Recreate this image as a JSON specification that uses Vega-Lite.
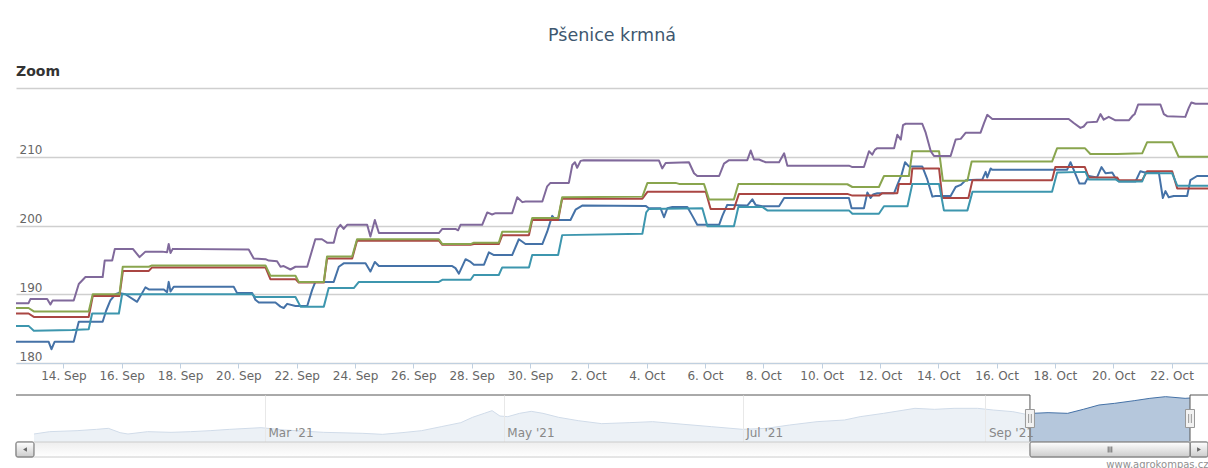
{
"$schema":"https://vega.github.io/schema/vega-lite/v6.json",
"background":"#ffffff",
"padding":{"left":15,"top":26,"right":0,"bottom":0},
"title":{"text":"Pšenice krmná","fontSize":17.5,"font":"DejaVu Sans","fontWeight":"normal","color":"#3E576F","anchor":"middle","offset":21},
"bounds":"flush",
"spacing":32,
"resolve":{"scale":{"x":"independent","y":"independent"}},
"config":{"view":{"stroke":null},"font":"DejaVu Sans"},
"datasets":{
"series":[
{"s":"1","t":"2021-09-12T09:00","v":183.1},{"s":"1","t":"2021-09-13T11:50","v":183.1},{"s":"1","t":"2021-09-13T14:10","v":182.0},{"s":"1","t":"2021-09-13T16:50","v":183.1},{"s":"1","t":"2021-09-14T08:30","v":183.1},{"s":"1","t":"2021-09-14T12:40","v":186.0},{"s":"1","t":"2021-09-15T08:20","v":186.0},{"s":"1","t":"2021-09-15T11:10","v":187.6},{"s":"1","t":"2021-09-15T14:40","v":189.1},{"s":"1","t":"2021-09-15T18:50","v":190.0},{"s":"1","t":"2021-09-15T21:40","v":190.2},{"s":"1","t":"2021-09-16T03:00","v":190.0},{"s":"1","t":"2021-09-16T12:40","v":188.9},{"s":"1","t":"2021-09-16T19:30","v":191.0},{"s":"1","t":"2021-09-16T22:20","v":190.7},{"s":"1","t":"2021-09-17T10:40","v":190.7},{"s":"1","t":"2021-09-17T13:20","v":190.3},{"s":"1","t":"2021-09-17T14:40","v":191.8},{"s":"1","t":"2021-09-17T16:10","v":190.4},{"s":"1","t":"2021-09-17T18:50","v":191.1},{"s":"1","t":"2021-09-19T20:10","v":191.1},{"s":"1","t":"2021-09-19T22:50","v":190.2},{"s":"1","t":"2021-09-20T11:20","v":190.2},{"s":"1","t":"2021-09-20T14:00","v":189.2},{"s":"1","t":"2021-09-20T16:50","v":188.8},{"s":"1","t":"2021-09-21T06:30","v":188.8},{"s":"1","t":"2021-09-21T10:40","v":188.2},{"s":"1","t":"2021-09-21T13:20","v":188.0},{"s":"1","t":"2021-09-21T16:10","v":188.6},{"s":"1","t":"2021-09-21T23:00","v":188.3},{"s":"1","t":"2021-09-22T08:40","v":188.3},{"s":"1","t":"2021-09-22T12:40","v":190.6},{"s":"1","t":"2021-09-22T15:20","v":191.8},{"s":"1","t":"2021-09-23T06:30","v":191.8},{"s":"1","t":"2021-09-23T10:40","v":194.0},{"s":"1","t":"2021-09-23T14:40","v":194.5},{"s":"1","t":"2021-09-24T08:40","v":194.5},{"s":"1","t":"2021-09-24T12:40","v":193.3},{"s":"1","t":"2021-09-24T16:20","v":194.7},{"s":"1","t":"2021-09-24T19:40","v":194.1},{"s":"1","t":"2021-09-27T08:00","v":194.1},{"s":"1","t":"2021-09-27T10:40","v":193.8},{"s":"1","t":"2021-09-27T13:30","v":193.0},{"s":"1","t":"2021-09-27T19:00","v":195.1},{"s":"1","t":"2021-09-27T23:10","v":194.7},{"s":"1","t":"2021-09-28T01:50","v":194.3},{"s":"1","t":"2021-09-28T10:10","v":194.3},{"s":"1","t":"2021-09-28T14:10","v":196.1},{"s":"1","t":"2021-09-28T18:20","v":195.7},{"s":"1","t":"2021-09-29T09:20","v":195.7},{"s":"1","t":"2021-09-29T14:50","v":198.0},{"s":"1","t":"2021-09-29T20:20","v":197.3},{"s":"1","t":"2021-09-30T10:10","v":197.3},{"s":"1","t":"2021-09-30T14:10","v":199.1},{"s":"1","t":"2021-09-30T16:50","v":200.6},{"s":"1","t":"2021-09-30T18:20","v":201.4},{"s":"1","t":"2021-09-30T21:00","v":200.8},{"s":"1","t":"2021-10-01T09:20","v":200.8},{"s":"1","t":"2021-10-01T13:30","v":202.3},{"s":"1","t":"2021-10-01T19:00","v":202.9},{"s":"1","t":"2021-10-03T23:10","v":202.85},{"s":"1","t":"2021-10-04T01:50","v":202.5},{"s":"1","t":"2021-10-04T11:30","v":202.5},{"s":"1","t":"2021-10-04T14:20","v":201.2},{"s":"1","t":"2021-10-04T17:00","v":202.5},{"s":"1","t":"2021-10-04T21:10","v":202.7},{"s":"1","t":"2021-10-05T09:30","v":202.7},{"s":"1","t":"2021-10-05T13:40","v":201.4},{"s":"1","t":"2021-10-05T17:40","v":200.1},{"s":"1","t":"2021-10-06T11:40","v":200.1},{"s":"1","t":"2021-10-06T14:20","v":201.4},{"s":"1","t":"2021-10-06T18:20","v":203.0},{"s":"1","t":"2021-10-07T10:50","v":202.9},{"s":"1","t":"2021-10-07T15:00","v":203.8},{"s":"1","t":"2021-10-07T17:40","v":203.0},{"s":"1","t":"2021-10-07T23:10","v":202.8},{"s":"1","t":"2021-10-08T13:00","v":202.8},{"s":"1","t":"2021-10-08T17:10","v":204.0},{"s":"1","t":"2021-10-10T22:30","v":204.0},{"s":"1","t":"2021-10-11T00:40","v":202.5},{"s":"1","t":"2021-10-11T10:50","v":202.5},{"s":"1","t":"2021-10-11T13:40","v":204.8},{"s":"1","t":"2021-10-11T16:20","v":204.0},{"s":"1","t":"2021-10-11T18:20","v":204.5},{"s":"1","t":"2021-10-11T21:50","v":204.7},{"s":"1","t":"2021-10-12T11:40","v":204.7},{"s":"1","t":"2021-10-12T14:20","v":205.9},{"s":"1","t":"2021-10-12T17:50","v":207.4},{"s":"1","t":"2021-10-12T20:40","v":209.2},{"s":"1","t":"2021-10-12T23:50","v":208.6},{"s":"1","t":"2021-10-13T10:50","v":208.6},{"s":"1","t":"2021-10-13T15:00","v":206.7},{"s":"1","t":"2021-10-13T19:10","v":204.2},{"s":"1","t":"2021-10-13T21:50","v":204.3},{"s":"1","t":"2021-10-14T10:10","v":204.3},{"s":"1","t":"2021-10-14T14:20","v":205.6},{"s":"1","t":"2021-10-14T18:30","v":205.9},{"s":"1","t":"2021-10-14T22:40","v":206.6},{"s":"1","t":"2021-10-15T12:20","v":206.7},{"s":"1","t":"2021-10-15T15:00","v":207.8},{"s":"1","t":"2021-10-15T16:20","v":207.0},{"s":"1","t":"2021-10-15T19:10","v":208.3},{"s":"1","t":"2021-10-15T20:30","v":208.1},{"s":"1","t":"2021-10-18T10:00","v":208.1},{"s":"1","t":"2021-10-18T12:50","v":209.2},{"s":"1","t":"2021-10-18T15:30","v":208.1},{"s":"1","t":"2021-10-18T20:10","v":206.1},{"s":"1","t":"2021-10-19T00:40","v":206.1},{"s":"1","t":"2021-10-19T03:50","v":207.2},{"s":"1","t":"2021-10-19T10:40","v":207.0},{"s":"1","t":"2021-10-19T14:20","v":208.5},{"s":"1","t":"2021-10-19T17:40","v":207.6},{"s":"1","t":"2021-10-19T23:10","v":207.7},{"s":"1","t":"2021-10-20T01:50","v":206.9},{"s":"1","t":"2021-10-20T04:40","v":206.4},{"s":"1","t":"2021-10-20T18:20","v":206.4},{"s":"1","t":"2021-10-20T22:20","v":207.9},{"s":"1","t":"2021-10-21T01:10","v":207.75},{"s":"1","t":"2021-10-21T13:30","v":207.75},{"s":"1","t":"2021-10-21T16:50","v":204.0},{"s":"1","t":"2021-10-21T19:00","v":205.0},{"s":"1","t":"2021-10-21T21:40","v":204.1},{"s":"1","t":"2021-10-22T01:50","v":204.3},{"s":"1","t":"2021-10-22T12:50","v":204.3},{"s":"1","t":"2021-10-22T15:30","v":206.6},{"s":"1","t":"2021-10-22T21:00","v":207.2},{"s":"1","t":"2021-10-23T06:00","v":207.2},
{"s":"2","t":"2021-09-12T09:00","v":187.2},{"s":"2","t":"2021-09-12T19:20","v":187.2},{"s":"2","t":"2021-09-12T23:40","v":186.7},{"s":"2","t":"2021-09-14T20:50","v":186.7},{"s":"2","t":"2021-09-15T00:10","v":189.75},{"s":"2","t":"2021-09-15T22:10","v":189.75},{"s":"2","t":"2021-09-16T01:00","v":193.4},{"s":"2","t":"2021-09-16T22:20","v":193.4},{"s":"2","t":"2021-09-17T01:00","v":193.9},{"s":"2","t":"2021-09-20T22:20","v":193.9},{"s":"2","t":"2021-09-21T02:20","v":192.2},{"s":"2","t":"2021-09-21T23:00","v":192.2},{"s":"2","t":"2021-09-22T01:40","v":191.7},{"s":"2","t":"2021-09-22T22:20","v":191.7},{"s":"2","t":"2021-09-23T01:00","v":195.2},{"s":"2","t":"2021-09-23T21:40","v":195.2},{"s":"2","t":"2021-09-24T01:40","v":197.8},{"s":"2","t":"2021-09-26T21:00","v":197.8},{"s":"2","t":"2021-09-26T23:50","v":197.2},{"s":"2","t":"2021-09-27T23:10","v":197.2},{"s":"2","t":"2021-09-28T01:50","v":197.3},{"s":"2","t":"2021-09-28T22:20","v":197.3},{"s":"2","t":"2021-09-29T01:10","v":198.6},{"s":"2","t":"2021-09-29T23:10","v":198.6},{"s":"2","t":"2021-09-30T01:50","v":200.8},{"s":"2","t":"2021-09-30T23:10","v":200.8},{"s":"2","t":"2021-10-01T02:30","v":203.9},{"s":"2","t":"2021-10-03T20:30","v":203.9},{"s":"2","t":"2021-10-04T00:40","v":204.9},{"s":"2","t":"2021-10-06T00:40","v":204.9},{"s":"2","t":"2021-10-06T04:40","v":202.4},{"s":"2","t":"2021-10-06T23:50","v":202.4},{"s":"2","t":"2021-10-07T04:00","v":204.6},{"s":"2","t":"2021-10-10T21:10","v":204.6},{"s":"2","t":"2021-10-11T01:20","v":204.35},{"s":"2","t":"2021-10-11T23:10","v":204.35},{"s":"2","t":"2021-10-12T02:00","v":204.7},{"s":"2","t":"2021-10-12T14:20","v":204.7},{"s":"2","t":"2021-10-12T15:40","v":206.05},{"s":"2","t":"2021-10-13T01:20","v":206.05},{"s":"2","t":"2021-10-13T02:40","v":208.3},{"s":"2","t":"2021-10-14T00:40","v":208.3},{"s":"2","t":"2021-10-14T03:20","v":204.0},{"s":"2","t":"2021-10-15T00:50","v":204.0},{"s":"2","t":"2021-10-15T04:10","v":206.6},{"s":"2","t":"2021-10-17T21:40","v":206.6},{"s":"2","t":"2021-10-18T00:20","v":208.5},{"s":"2","t":"2021-10-19T00:40","v":208.5},{"s":"2","t":"2021-10-19T03:50","v":207.0},{"s":"2","t":"2021-10-20T03:10","v":207.0},{"s":"2","t":"2021-10-20T04:40","v":206.6},{"s":"2","t":"2021-10-20T23:50","v":206.6},{"s":"2","t":"2021-10-21T03:50","v":207.9},{"s":"2","t":"2021-10-22T00:30","v":207.9},{"s":"2","t":"2021-10-22T04:40","v":205.4},{"s":"2","t":"2021-10-23T06:00","v":205.4},
{"s":"3","t":"2021-09-12T09:00","v":188.0},{"s":"3","t":"2021-09-12T19:20","v":188.0},{"s":"3","t":"2021-09-12T23:40","v":187.5},{"s":"3","t":"2021-09-14T20:50","v":187.5},{"s":"3","t":"2021-09-15T00:10","v":190.0},{"s":"3","t":"2021-09-15T22:10","v":190.0},{"s":"3","t":"2021-09-16T00:50","v":194.0},{"s":"3","t":"2021-09-16T22:20","v":194.0},{"s":"3","t":"2021-09-17T01:00","v":194.2},{"s":"3","t":"2021-09-20T22:20","v":194.2},{"s":"3","t":"2021-09-21T02:20","v":192.7},{"s":"3","t":"2021-09-21T23:00","v":192.7},{"s":"3","t":"2021-09-22T01:40","v":191.8},{"s":"3","t":"2021-09-22T22:20","v":191.8},{"s":"3","t":"2021-09-23T01:00","v":195.5},{"s":"3","t":"2021-09-23T21:40","v":195.5},{"s":"3","t":"2021-09-24T01:40","v":198.0},{"s":"3","t":"2021-09-26T21:00","v":198.0},{"s":"3","t":"2021-09-26T23:50","v":197.3},{"s":"3","t":"2021-09-27T23:10","v":197.3},{"s":"3","t":"2021-09-28T01:50","v":197.5},{"s":"3","t":"2021-09-28T22:20","v":197.5},{"s":"3","t":"2021-09-29T01:10","v":199.1},{"s":"3","t":"2021-09-29T23:10","v":199.1},{"s":"3","t":"2021-09-30T01:50","v":201.1},{"s":"3","t":"2021-09-30T23:10","v":201.1},{"s":"3","t":"2021-10-01T02:30","v":204.1},{"s":"3","t":"2021-10-03T20:30","v":204.2},{"s":"3","t":"2021-10-04T00:40","v":206.2},{"s":"3","t":"2021-10-04T23:50","v":206.2},{"s":"3","t":"2021-10-05T02:40","v":206.05},{"s":"3","t":"2021-10-05T23:10","v":206.05},{"s":"3","t":"2021-10-06T03:20","v":203.8},{"s":"3","t":"2021-10-06T23:50","v":203.8},{"s":"3","t":"2021-10-07T03:30","v":206.05},{"s":"3","t":"2021-10-10T21:10","v":206.0},{"s":"3","t":"2021-10-11T01:20","v":205.6},{"s":"3","t":"2021-10-11T23:10","v":205.6},{"s":"3","t":"2021-10-12T03:20","v":207.2},{"s":"3","t":"2021-10-12T23:50","v":207.2},{"s":"3","t":"2021-10-13T02:40","v":210.8},{"s":"3","t":"2021-10-14T00:40","v":210.8},{"s":"3","t":"2021-10-14T03:50","v":206.5},{"s":"3","t":"2021-10-15T00:00","v":206.5},{"s":"3","t":"2021-10-15T03:30","v":209.3},{"s":"3","t":"2021-10-17T21:40","v":209.3},{"s":"3","t":"2021-10-18T01:50","v":211.25},{"s":"3","t":"2021-10-19T00:40","v":211.25},{"s":"3","t":"2021-10-19T05:10","v":210.4},{"s":"3","t":"2021-10-20T03:10","v":210.4},{"s":"3","t":"2021-10-20T23:50","v":210.5},{"s":"3","t":"2021-10-21T03:50","v":212.1},{"s":"3","t":"2021-10-22T00:30","v":212.1},{"s":"3","t":"2021-10-22T05:50","v":210.0},{"s":"3","t":"2021-10-23T06:00","v":210.0},
{"s":"4","t":"2021-09-12T09:00","v":188.7},{"s":"4","t":"2021-09-12T19:20","v":188.7},{"s":"4","t":"2021-09-12T20:50","v":189.3},{"s":"4","t":"2021-09-13T10:40","v":189.3},{"s":"4","t":"2021-09-13T13:20","v":188.5},{"s":"4","t":"2021-09-13T15:10","v":189.1},{"s":"4","t":"2021-09-14T08:30","v":189.1},{"s":"4","t":"2021-09-14T12:40","v":191.5},{"s":"4","t":"2021-09-14T18:10","v":192.5},{"s":"4","t":"2021-09-15T08:20","v":192.5},{"s":"4","t":"2021-09-15T10:00","v":194.9},{"s":"4","t":"2021-09-15T16:10","v":194.9},{"s":"4","t":"2021-09-15T18:20","v":196.6},{"s":"4","t":"2021-09-16T09:10","v":196.6},{"s":"4","t":"2021-09-16T14:40","v":195.4},{"s":"4","t":"2021-09-16T19:30","v":196.2},{"s":"4","t":"2021-09-17T09:10","v":196.2},{"s":"4","t":"2021-09-17T13:20","v":196.1},{"s":"4","t":"2021-09-17T14:40","v":197.3},{"s":"4","t":"2021-09-17T16:10","v":196.0},{"s":"4","t":"2021-09-17T18:00","v":196.6},{"s":"4","t":"2021-09-20T08:30","v":196.5},{"s":"4","t":"2021-09-20T12:40","v":195.2},{"s":"4","t":"2021-09-20T22:20","v":195.1},{"s":"4","t":"2021-09-21T01:00","v":194.9},{"s":"4","t":"2021-09-21T07:50","v":194.8},{"s":"4","t":"2021-09-21T10:40","v":194.0},{"s":"4","t":"2021-09-21T13:20","v":194.1},{"s":"4","t":"2021-09-21T18:50","v":193.6},{"s":"4","t":"2021-09-21T23:00","v":194.0},{"s":"4","t":"2021-09-22T08:40","v":194.0},{"s":"4","t":"2021-09-22T12:40","v":196.4},{"s":"4","t":"2021-09-22T15:20","v":198.0},{"s":"4","t":"2021-09-22T20:50","v":198.0},{"s":"4","t":"2021-09-23T01:00","v":197.5},{"s":"4","t":"2021-09-23T06:30","v":197.5},{"s":"4","t":"2021-09-23T09:20","v":199.5},{"s":"4","t":"2021-09-23T12:00","v":200.1},{"s":"4","t":"2021-09-23T14:40","v":199.5},{"s":"4","t":"2021-09-23T17:30","v":200.1},{"s":"4","t":"2021-09-24T10:00","v":200.1},{"s":"4","t":"2021-09-24T12:40","v":198.4},{"s":"4","t":"2021-09-24T16:20","v":200.8},{"s":"4","t":"2021-09-24T19:40","v":198.9},{"s":"4","t":"2021-09-26T21:00","v":198.9},{"s":"4","t":"2021-09-26T23:50","v":199.5},{"s":"4","t":"2021-09-27T10:40","v":199.5},{"s":"4","t":"2021-09-27T12:50","v":199.3},{"s":"4","t":"2021-09-27T14:50","v":200.1},{"s":"4","t":"2021-09-28T08:40","v":200.1},{"s":"4","t":"2021-09-28T12:50","v":201.9},{"s":"4","t":"2021-09-28T16:50","v":201.6},{"s":"4","t":"2021-09-28T19:40","v":201.8},{"s":"4","t":"2021-09-29T09:20","v":201.8},{"s":"4","t":"2021-09-29T13:30","v":204.1},{"s":"4","t":"2021-09-29T17:40","v":203.4},{"s":"4","t":"2021-09-29T20:20","v":203.5},{"s":"4","t":"2021-09-30T10:10","v":203.5},{"s":"4","t":"2021-09-30T14:10","v":205.7},{"s":"4","t":"2021-09-30T16:50","v":206.2},{"s":"4","t":"2021-10-01T08:00","v":206.2},{"s":"4","t":"2021-10-01T10:50","v":208.8},{"s":"4","t":"2021-10-01T13:00","v":209.2},{"s":"4","t":"2021-10-01T14:50","v":208.4},{"s":"4","t":"2021-10-01T17:40","v":209.4},{"s":"4","t":"2021-10-01T20:20","v":209.5},{"s":"4","t":"2021-10-04T10:10","v":209.45},{"s":"4","t":"2021-10-04T12:50","v":208.3},{"s":"4","t":"2021-10-04T15:40","v":209.1},{"s":"4","t":"2021-10-05T10:50","v":209.2},{"s":"4","t":"2021-10-05T15:00","v":207.6},{"s":"4","t":"2021-10-05T17:40","v":207.2},{"s":"4","t":"2021-10-06T11:40","v":207.2},{"s":"4","t":"2021-10-06T15:40","v":209.0},{"s":"4","t":"2021-10-06T19:50","v":209.5},{"s":"4","t":"2021-10-07T10:50","v":209.5},{"s":"4","t":"2021-10-07T13:40","v":210.9},{"s":"4","t":"2021-10-07T16:20","v":209.6},{"s":"4","t":"2021-10-07T20:30","v":209.6},{"s":"4","t":"2021-10-08T02:00","v":209.2},{"s":"4","t":"2021-10-08T13:00","v":209.2},{"s":"4","t":"2021-10-08T17:10","v":210.5},{"s":"4","t":"2021-10-08T19:50","v":208.7},{"s":"4","t":"2021-10-10T22:30","v":208.7},{"s":"4","t":"2021-10-11T01:20","v":208.5},{"s":"4","t":"2021-10-11T10:50","v":208.5},{"s":"4","t":"2021-10-11T15:00","v":210.8},{"s":"4","t":"2021-10-11T17:40","v":210.3},{"s":"4","t":"2021-10-11T19:50","v":211.0},{"s":"4","t":"2021-10-11T21:50","v":211.25},{"s":"4","t":"2021-10-12T11:40","v":211.25},{"s":"4","t":"2021-10-12T14:20","v":213.2},{"s":"4","t":"2021-10-12T17:10","v":212.5},{"s":"4","t":"2021-10-12T19:00","v":214.6},{"s":"4","t":"2021-10-12T21:10","v":214.8},{"s":"4","t":"2021-10-13T10:50","v":214.8},{"s":"4","t":"2021-10-13T13:40","v":213.5},{"s":"4","t":"2021-10-13T17:50","v":210.8},{"s":"4","t":"2021-10-13T20:30","v":210.1},{"s":"4","t":"2021-10-14T10:10","v":210.1},{"s":"4","t":"2021-10-14T14:20","v":212.5},{"s":"4","t":"2021-10-14T18:30","v":212.6},{"s":"4","t":"2021-10-14T22:40","v":213.5},{"s":"4","t":"2021-10-15T10:50","v":213.5},{"s":"4","t":"2021-10-15T13:40","v":214.9},{"s":"4","t":"2021-10-15T16:20","v":216.1},{"s":"4","t":"2021-10-15T20:30","v":215.5},{"s":"4","t":"2021-10-18T11:20","v":215.5},{"s":"4","t":"2021-10-18T15:30","v":214.9},{"s":"4","t":"2021-10-18T21:00","v":214.2},{"s":"4","t":"2021-10-18T23:40","v":214.4},{"s":"4","t":"2021-10-19T02:30","v":215.0},{"s":"4","t":"2021-10-19T10:40","v":215.1},{"s":"4","t":"2021-10-19T13:30","v":216.2},{"s":"4","t":"2021-10-19T16:10","v":215.4},{"s":"4","t":"2021-10-19T20:20","v":215.8},{"s":"4","t":"2021-10-20T01:50","v":215.3},{"s":"4","t":"2021-10-20T12:50","v":215.3},{"s":"4","t":"2021-10-20T16:10","v":216.0},{"s":"4","t":"2021-10-20T17:40","v":216.2},{"s":"4","t":"2021-10-20T20:30","v":217.6},{"s":"4","t":"2021-10-21T14:50","v":217.6},{"s":"4","t":"2021-10-21T17:40","v":216.2},{"s":"4","t":"2021-10-21T20:20","v":215.9},{"s":"4","t":"2021-10-22T11:20","v":215.8},{"s":"4","t":"2021-10-22T14:10","v":217.1},{"s":"4","t":"2021-10-22T16:20","v":217.9},{"s":"4","t":"2021-10-22T19:40","v":217.7},{"s":"4","t":"2021-10-23T06:00","v":217.7},
{"s":"5","t":"2021-09-12T09:00","v":185.4},{"s":"5","t":"2021-09-12T19:20","v":185.4},{"s":"5","t":"2021-09-12T23:40","v":184.7},{"s":"5","t":"2021-09-14T07:10","v":184.8},{"s":"5","t":"2021-09-14T20:50","v":184.9},{"s":"5","t":"2021-09-14T23:40","v":187.2},{"s":"5","t":"2021-09-15T21:40","v":187.2},{"s":"5","t":"2021-09-16T00:20","v":190.0},{"s":"5","t":"2021-09-20T11:20","v":190.0},{"s":"5","t":"2021-09-20T14:00","v":189.6},{"s":"5","t":"2021-09-21T23:00","v":189.6},{"s":"5","t":"2021-09-22T03:10","v":188.2},{"s":"5","t":"2021-09-22T22:20","v":188.2},{"s":"5","t":"2021-09-23T02:20","v":190.9},{"s":"5","t":"2021-09-23T23:00","v":190.9},{"s":"5","t":"2021-09-24T03:10","v":191.8},{"s":"5","t":"2021-09-26T21:00","v":191.8},{"s":"5","t":"2021-09-26T23:50","v":192.1},{"s":"5","t":"2021-09-27T23:10","v":192.1},{"s":"5","t":"2021-09-28T01:50","v":192.8},{"s":"5","t":"2021-09-28T22:20","v":192.8},{"s":"5","t":"2021-09-29T01:10","v":193.9},{"s":"5","t":"2021-09-29T23:10","v":193.9},{"s":"5","t":"2021-09-30T01:50","v":195.7},{"s":"5","t":"2021-09-30T23:10","v":195.7},{"s":"5","t":"2021-10-01T02:30","v":198.6},{"s":"5","t":"2021-10-03T20:30","v":198.8},{"s":"5","t":"2021-10-03T23:40","v":201.9},{"s":"5","t":"2021-10-04T01:50","v":202.4},{"s":"5","t":"2021-10-05T21:50","v":202.5},{"s":"5","t":"2021-10-06T02:00","v":199.9},{"s":"5","t":"2021-10-06T23:50","v":199.9},{"s":"5","t":"2021-10-07T03:30","v":202.7},{"s":"5","t":"2021-10-07T23:10","v":202.7},{"s":"5","t":"2021-10-08T03:20","v":202.2},{"s":"5","t":"2021-10-10T22:30","v":202.2},{"s":"5","t":"2021-10-11T01:20","v":201.7},{"s":"5","t":"2021-10-11T23:10","v":201.7},{"s":"5","t":"2021-10-12T03:20","v":202.8},{"s":"5","t":"2021-10-12T22:40","v":202.8},{"s":"5","t":"2021-10-13T02:40","v":206.05},{"s":"5","t":"2021-10-14T00:40","v":206.05},{"s":"5","t":"2021-10-14T04:40","v":202.2},{"s":"5","t":"2021-10-15T00:00","v":202.2},{"s":"5","t":"2021-10-15T04:10","v":204.9},{"s":"5","t":"2021-10-17T21:40","v":204.9},{"s":"5","t":"2021-10-18T01:50","v":207.7},{"s":"5","t":"2021-10-19T01:10","v":207.8},{"s":"5","t":"2021-10-19T03:50","v":206.7},{"s":"5","t":"2021-10-20T01:50","v":206.7},{"s":"5","t":"2021-10-20T04:40","v":206.4},{"s":"5","t":"2021-10-20T23:50","v":206.4},{"s":"5","t":"2021-10-21T02:30","v":207.6},{"s":"5","t":"2021-10-22T00:30","v":207.6},{"s":"5","t":"2021-10-22T04:40","v":205.8},{"s":"5","t":"2021-10-23T06:00","v":205.8}
],
"nav":[
{"t":"2021-01-01T00:00","v":159.6},{"t":"2021-01-05T00:00","v":162.4},{"t":"2021-01-12T00:00","v":163.6},{"t":"2021-01-17T00:00","v":165.2},{"t":"2021-01-20T00:00","v":166.4},{"t":"2021-01-23T00:00","v":161.2},{"t":"2021-01-25T00:00","v":159.6},{"t":"2021-01-30T00:00","v":162.4},{"t":"2021-02-05T00:00","v":161.6},{"t":"2021-02-10T00:00","v":162.4},{"t":"2021-02-15T00:00","v":163.6},{"t":"2021-02-20T00:00","v":165.2},{"t":"2021-02-28T00:00","v":167.2},{"t":"2021-03-06T00:00","v":164.4},{"t":"2021-03-16T00:00","v":161.6},{"t":"2021-03-26T00:00","v":160.4},{"t":"2021-03-31T00:00","v":159.2},{"t":"2021-04-05T00:00","v":161.2},{"t":"2021-04-10T00:00","v":163.6},{"t":"2021-04-15T00:00","v":168.4},{"t":"2021-04-20T00:00","v":173.2},{"t":"2021-04-23T00:00","v":179.6},{"t":"2021-04-26T00:00","v":184.4},{"t":"2021-04-28T00:00","v":187.6},{"t":"2021-04-30T00:00","v":181.2},{"t":"2021-05-02T00:00","v":180.4},{"t":"2021-05-05T00:00","v":184.4},{"t":"2021-05-08T00:00","v":186.8},{"t":"2021-05-11T00:00","v":184.4},{"t":"2021-05-15T00:00","v":179.6},{"t":"2021-05-20T00:00","v":175.6},{"t":"2021-05-26T00:00","v":172.0},{"t":"2021-06-02T00:00","v":173.2},{"t":"2021-06-08T00:00","v":174.4},{"t":"2021-06-15T00:00","v":171.6},{"t":"2021-06-23T00:00","v":168.4},{"t":"2021-07-01T00:00","v":165.2},{"t":"2021-07-07T00:00","v":166.4},{"t":"2021-07-13T00:00","v":170.4},{"t":"2021-07-20T00:00","v":174.4},{"t":"2021-07-27T00:00","v":176.4},{"t":"2021-07-31T00:00","v":180.4},{"t":"2021-08-06T00:00","v":184.4},{"t":"2021-08-14T00:00","v":190.4},{"t":"2021-08-19T00:00","v":189.2},{"t":"2021-08-24T00:00","v":190.4},{"t":"2021-08-30T00:00","v":190.4},{"t":"2021-09-03T00:00","v":188.4},{"t":"2021-09-08T00:00","v":186.4},{"t":"2021-09-11T00:00","v":183.6},{"t":"2021-09-13T00:00","v":184.4},{"t":"2021-09-17T00:00","v":185.2},{"t":"2021-09-22T00:00","v":184.4},{"t":"2021-09-26T00:00","v":189.2},{"t":"2021-09-30T00:00","v":194.4},{"t":"2021-10-04T00:00","v":196.4},{"t":"2021-10-09T00:00","v":199.6},{"t":"2021-10-13T00:00","v":202.4},{"t":"2021-10-17T00:00","v":204.4},{"t":"2021-10-22T00:00","v":202.4},{"t":"2021-10-23T06:00","v":202.8}
]
},
"vconcat":[
{
"width":1192,"height":275,
"title":{"text":"Zoom","anchor":"start","fontSize":14,"fontWeight":"bold","color":"#333333","offset":9},
"data":{"name":"series"},
"mark":{"type":"line","strokeWidth":2,"clip":true,"strokeJoin":"round","strokeCap":"round"},
"encoding":{
"x":{"field":"t","type":"temporal",
"scale":{"domain":[{"year":2021,"month":9,"date":12,"hours":9},{"year":2021,"month":10,"date":23,"hours":6}]},
"axis":{"title":null,"values":[{"year":2021,"month":9,"date":14},{"year":2021,"month":9,"date":16},{"year":2021,"month":9,"date":18},{"year":2021,"month":9,"date":20},{"year":2021,"month":9,"date":22},{"year":2021,"month":9,"date":24},{"year":2021,"month":9,"date":26},{"year":2021,"month":9,"date":28},{"year":2021,"month":9,"date":30},{"year":2021,"month":10,"date":2},{"year":2021,"month":10,"date":4},{"year":2021,"month":10,"date":6},{"year":2021,"month":10,"date":8},{"year":2021,"month":10,"date":10},{"year":2021,"month":10,"date":12},{"year":2021,"month":10,"date":14},{"year":2021,"month":10,"date":16},{"year":2021,"month":10,"date":18},{"year":2021,"month":10,"date":20},{"year":2021,"month":10,"date":22}],
"format":"%-d. %b","labelFontSize":12,"labelColor":"#666666","labelFont":"DejaVu Sans","tickColor":"#C0D0E0","domainColor":"#C0D0E0","tickSize":5,"labelPadding":2,"grid":false,"labelFlush":false,"labelOverlap":false}},
"y":{"field":"v","type":"quantitative","scale":{"domain":[180,220],"zero":false,"nice":false},
"axis":{"title":null,"values":[180,190,200,210,220],"labelExpr":"datum.value == 220 ? '' : datum.label","domain":false,"ticks":false,"tickSize":0,"labelAlign":"left","labelBaseline":"alphabetic","labelPadding":-3,"labelOffset":-3,"labelColor":"#666666","labelFontSize":12,"labelFont":"DejaVu Sans","grid":true,"gridColor":"#cfcfcf","gridWidth":1.5}},
"color":{"field":"s","type":"nominal","scale":{"domain":["1","2","3","4","5"],"range":["#4572A7","#AA4643","#89A54E","#80699B","#3D96AE"]},"legend":null}
}
},
{
"vconcat":[
{
"width":1192,"height":47,
"layer":[
{"data":{"name":"nav"},
"mark":{"type":"area","color":"#4572A7","fillOpacity":0.4,"line":{"strokeWidth":1,"color":"#4572A7"}},
"encoding":{
"x":{"field":"t","type":"temporal","scale":{"domain":[{"year":2020,"month":12,"date":27,"hours":9,"minutes":42},{"year":2021,"month":10,"date":27,"hours":20,"minutes":18}]},
"axis":{"title":null,"values":[{"year":2021,"month":3,"date":1},{"year":2021,"month":5,"date":1},{"year":2021,"month":7,"date":1},{"year":2021,"month":9,"date":1}],"format":"%b '%y","domain":false,"ticks":false,"tickSize":0,"labelAlign":"left","labelBaseline":"alphabetic","labelPadding":-6,"labelOffset":3,"labelColor":"#888888","labelFontSize":12,"labelFont":"DejaVu Sans","grid":true,"gridColor":"#e8e8e8","labelFlush":false,"zindex":1}},
"y":{"field":"v","type":"quantitative","scale":{"domain":[150,206.4],"zero":false,"nice":false},"axis":null},
"y2":{"datum":150}
}},
{"data":{"values":[{}]},"mark":{"type":"rect","fill":"#ffffff","opacity":0.75},
"encoding":{"x":{"datum":{"year":2020,"month":12,"date":27,"hours":9,"minutes":42},"type":"temporal"},"x2":{"datum":{"year":2021,"month":9,"date":12,"hours":9}}}},
{"data":{"values":[{}]},"mark":{"type":"rule","color":"#555555","strokeWidth":1},
"encoding":{"x":{"datum":{"year":2020,"month":12,"date":27,"hours":9,"minutes":42},"type":"temporal"},"x2":{"datum":{"year":2021,"month":9,"date":12,"hours":9}},"y":{"datum":206.4,"type":"quantitative"}}},
{"data":{"values":[{}]},"mark":{"type":"rule","color":"#555555","strokeWidth":1},
"encoding":{"x":{"datum":{"year":2021,"month":10,"date":23,"hours":6},"type":"temporal"},"x2":{"datum":{"year":2021,"month":10,"date":27,"hours":20,"minutes":18}},"y":{"datum":206.4,"type":"quantitative"}}},
{"data":{"values":[{}]},"mark":{"type":"rule","color":"#555555","strokeWidth":1},
"encoding":{"x":{"datum":{"year":2021,"month":9,"date":12,"hours":9},"type":"temporal"}}},
{"data":{"values":[{}]},"mark":{"type":"rule","color":"#555555","strokeWidth":1},
"encoding":{"x":{"datum":{"year":2021,"month":10,"date":23,"hours":6},"type":"temporal"}}},
{"data":{"values":[{}]},"mark":{"type":"point","shape":"M-0.5,-1H0.5V1H-0.5Z M-0.15,-0.5V0.5 M0.15,-0.5V0.5","size":324,"filled":false,"fill":"#f2f2f2","fillOpacity":1,"stroke":"#999999","strokeWidth":1,"opacity":1},
"encoding":{"x":{"datum":{"year":2021,"month":9,"date":12,"hours":9},"type":"temporal"}}},
{"data":{"values":[{}]},"mark":{"type":"point","shape":"M-0.5,-1H0.5V1H-0.5Z M-0.15,-0.5V0.5 M0.15,-0.5V0.5","size":324,"filled":false,"fill":"#f2f2f2","fillOpacity":1,"stroke":"#999999","strokeWidth":1,"opacity":1},
"encoding":{"x":{"datum":{"year":2021,"month":10,"date":23,"hours":6},"type":"temporal"}}}
]
},
{
"width":1192,"height":15,
"title":{"text":"www.agrokompas.cz","orient":"bottom","anchor":"end","fontSize":10,"fontWeight":"normal","color":"#909090","offset":2},
"data":{"values":[{}]},
"layer":[
{"mark":{"type":"rect","fill":{"gradient":"linear","x1":0,"y1":0,"x2":0,"y2":1,"stops":[{"offset":0,"color":"#eeeeee"},{"offset":1,"color":"#ffffff"}]},"stroke":"#cccccc","strokeWidth":1},
"encoding":{"x":{"datum":{"year":2020,"month":12,"date":27,"hours":9,"minutes":42},"type":"temporal","scale":{"domain":[{"year":2020,"month":12,"date":27,"hours":9,"minutes":42},{"year":2021,"month":10,"date":27,"hours":20,"minutes":18}]},"axis":null},"x2":{"datum":{"year":2021,"month":10,"date":27,"hours":20,"minutes":18}}}},
{"mark":{"type":"rect","fill":{"gradient":"linear","x1":0,"y1":0,"x2":0,"y2":1,"stops":[{"offset":0,"color":"#ffffff"},{"offset":1,"color":"#cccccc"}]},"stroke":"#666666","strokeWidth":1,"cornerRadius":2},
"encoding":{"x":{"datum":{"year":2020,"month":12,"date":27,"hours":9,"minutes":42},"type":"temporal"},"x2":{"datum":{"year":2021,"month":1,"date":1}}}},
{"mark":{"type":"rect","fill":{"gradient":"linear","x1":0,"y1":0,"x2":0,"y2":1,"stops":[{"offset":0,"color":"#ffffff"},{"offset":1,"color":"#cccccc"}]},"stroke":"#666666","strokeWidth":1,"cornerRadius":2},
"encoding":{"x":{"datum":{"year":2021,"month":10,"date":23,"hours":6},"type":"temporal"},"x2":{"datum":{"year":2021,"month":10,"date":27,"hours":20,"minutes":18}}}},
{"mark":{"type":"rect","fill":{"gradient":"linear","x1":0,"y1":0,"x2":0,"y2":1,"stops":[{"offset":0,"color":"#ffffff"},{"offset":1,"color":"#cccccc"}]},"stroke":"#666666","strokeWidth":1,"cornerRadius":2},
"encoding":{"x":{"datum":{"year":2021,"month":9,"date":12,"hours":9},"type":"temporal"},"x2":{"datum":{"year":2021,"month":10,"date":23,"hours":6}}}},
{"mark":{"type":"point","shape":"triangle-left","filled":true,"color":"#666666","size":20,"opacity":1},
"encoding":{"x":{"datum":{"year":2020,"month":12,"date":29,"hours":16,"minutes":51},"type":"temporal"}}},
{"mark":{"type":"point","shape":"triangle-right","filled":true,"color":"#666666","size":20,"opacity":1},
"encoding":{"x":{"datum":{"year":2021,"month":10,"date":25,"hours":13,"minutes":9},"type":"temporal"}}},
{"mark":{"type":"point","shape":"M-0.3,-0.5V0.5M0,-0.5V0.5M0.3,-0.5V0.5","filled":false,"stroke":"#666666","strokeWidth":1,"size":144,"opacity":1},
"encoding":{"x":{"datum":{"year":2021,"month":10,"date":2,"hours":19,"minutes":30},"type":"temporal"}}}
]
}
],
"spacing":0,
"bounds":"flush",
"resolve":{"scale":{"x":"independent","y":"independent"}}
}
]
}
